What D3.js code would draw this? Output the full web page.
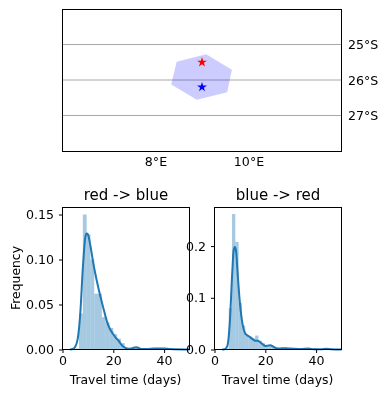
<!DOCTYPE html>
<html>
<head>
<meta charset="utf-8">
<style>
    html, body {
        margin: 0;
        padding: 0;
        background: #fff;
    }
    svg {
        display: block;
        filter: blur(0.35px);
    }
    text {
        font-family: "DejaVu Sans";
        fill: #000;
    }
    .tick text {
        font-size: 12.6px;
    }
    .title {
        font-size: 15px;
        text-anchor: middle;
    }
    .axis-label {
        font-size: 12.4px;
        text-anchor: middle;
    }
    .frame {
        fill: none;
        stroke: #000;
        stroke-width: 1px;
    }
    .bar {
        fill: #1f77b4;
        fill-opacity: 0.4;
    }
    .kde {
        fill: none;
        stroke: #1f77b4;
        stroke-width: 2px;
    }
</style>
</head>
<body>
<script src="https://d3js.org/d3.v7.min.js"></script>
<script>

    // map panel
    var gridLats = [-25, -26, -27];
    var lonTicks = [8, 10];
    var regionLons = [8.454, 9.09, 9.643, 9.542, 8.89, 8.338];
    var regionLats = [-25.483, -25.277, -25.709, -26.342, -26.556, -26.124];
    var starLons = [9.0, 9.0];
    var starLats = [-25.5, -26.2];
    var starColors = ["red", "blue"];

    // red -> blue
    var rbBinEdges = [5, 6.5, 8, 9.5, 11, 12.5, 14, 15.5, 17, 18.5, 20, 21.5, 23, 24.5, 26, 27.5, 29, 30.5, 32, 36, 40, 44];
    var rbBinValues = [0.001, 0.04, 0.15, 0.128, 0.1, 0.062, 0.062, 0.036, 0.03, 0.024, 0.017, 0.012, 0.007, 0.002, 0.0008, 0.002, 0.003, 0.001, 0.0005, 0.001, 0.001];
    var rbKdeX = [3, 4, 5, 6, 7, 8, 9, 9.5, 10, 11, 12, 13, 14, 15, 16, 17, 18, 19, 20, 21, 22, 23, 24, 25, 26, 27, 28, 29, 30, 31, 33, 36, 38, 40, 42, 44, 50];
    var rbKdeY = [0, 0.0005, 0.003, 0.012, 0.04, 0.09, 0.125, 0.129, 0.128, 0.115, 0.098, 0.083, 0.07, 0.058, 0.047, 0.036, 0.027, 0.021, 0.017, 0.013, 0.01, 0.006, 0.003, 0.0015, 0.0007, 0.001, 0.002, 0.0025, 0.0015, 0.0006, 0.0005, 0.001, 0.0012, 0.001, 0.0006, 0.0002, 0];
    var rbYTicks = [0, 0.05, 0.10, 0.15];

    // blue -> red
    var brBinEdges = [4.3, 5.6, 6.9, 8.2, 9.5, 10.8, 12.1, 13.4, 14.7, 16, 17.3, 18.6, 19.9, 21.2, 22.5, 23.8, 25.1, 28, 32, 36, 40, 43, 46];
    var brBinValues = [0.002, 0.08, 0.262, 0.208, 0.09, 0.046, 0.027, 0.025, 0.022, 0.027, 0.017, 0.012, 0.007, 0.008, 0.007, 0.003, 0.002, 0.002, 0.0015, 0.002, 0.0004, 0.0015];
    var brKdeX = [3, 4, 5, 6, 7, 7.5, 8, 8.5, 9, 10, 11, 12, 13, 14, 15, 16, 17, 18, 19, 20, 21, 22, 23, 24, 25, 26, 27, 29, 31, 34, 37, 39, 42, 44, 46, 50];
    var brKdeY = [0, 0.0005, 0.006, 0.05, 0.15, 0.19, 0.198, 0.19, 0.155, 0.09, 0.05, 0.032, 0.027, 0.024, 0.02, 0.017, 0.017, 0.014, 0.01, 0.007, 0.0075, 0.008, 0.006, 0.003, 0.002, 0.002, 0.0025, 0.002, 0.0015, 0.001, 0.002, 0.0005, 0.0003, 0.0015, 0.0005, 0];
    var brYTicks = [0, 0.1, 0.2];

    var xTicks = [0, 20, 40];

    var svg = d3.select("body").append("svg")
        .attr("width", 387)
        .attr("height", 396);

    // ---- map ----
    var lonScale = d3.scaleLinear().domain([6, 12]).range([62.5, 341.5]);
    var latScale = d3.scaleLinear().domain([-24, -28]).range([9, 151]);

    var map = svg.append("g");

    map.selectAll(".grid")
        .data(gridLats)
      .enter().append("line")
        .attr("x1", lonScale.range()[0])
        .attr("x2", lonScale.range()[1])
        .attr("y1", function(d) {return latScale(d)})
        .attr("y2", function(d) {return latScale(d)})
        .attr("stroke", "#a8a8a8")
        .attr("stroke-width", 1);

    map.append("polygon")
        .attr("points", regionLons.map(function(d, i) {
            return lonScale(d) + "," + latScale(regionLats[i]);
        }).join(" "))
        .attr("fill", "blue")
        .attr("fill-opacity", 0.2);

    map.selectAll(".star")
        .data(starLons)
      .enter().append("path")
        .attr("d", d3.symbol().type(d3.symbolStar).size(30))
        .attr("transform", function(d, i) {
            return "translate(" + lonScale(d) + "," + latScale(starLats[i]) + ")";
        })
        .attr("fill", function(d, i) {return starColors[i]});

    map.append("rect")
        .attr("class", "frame")
        .attr("x", lonScale.range()[0])
        .attr("y", latScale.range()[0] + 0.5)
        .attr("width", lonScale.range()[1] - lonScale.range()[0])
        .attr("height", latScale.range()[1] - latScale.range()[0]);

    var lonAxis = d3.axisBottom(lonScale)
        .tickValues(lonTicks)
        .tickSize(0)
        .tickPadding(6.5)
        .tickFormat(function(d) {return d + "°E"});
    map.append("g")
        .attr("transform", "translate(0," + latScale.range()[1] + ")")
        .call(lonAxis)
        .call(function(g) {g.select(".domain").remove()});

    var latAxis = d3.axisRight(latScale)
        .tickValues(gridLats)
        .tickSize(0)
        .tickPadding(6.5)
        .tickFormat(function(d) {return Math.abs(d) + "°S"});
    map.append("g")
        .attr("transform", "translate(" + lonScale.range()[1] + ",0)")
        .call(latAxis)
        .call(function(g) {g.select(".domain").remove()});

    // ---- histograms ----
    function drawPanel(opts) {
        var x = d3.scaleLinear().domain([0, 50]).range(opts.xRange);
        var y = d3.scaleLinear().domain([0, opts.yMax]).range([349.5, 207.5]);
        var g = svg.append("g");

        g.selectAll(".bar")
            .data(opts.values)
          .enter().append("rect")
            .attr("class", "bar")
            .attr("x", function(d, i) {return x(opts.edges[i])})
            .attr("width", function(d, i) {return x(opts.edges[i + 1]) - x(opts.edges[i])})
            .attr("y", function(d) {return y(d)})
            .attr("height", function(d) {return y(0) - y(d)});

        var line = d3.line()
            .x(function(d) {return x(d)})
            .y(function(d, i) {return y(opts.kdeY[i])})
            .curve(d3.curveMonotoneX);

        g.append("path")
            .attr("class", "kde")
            .attr("d", line(opts.kdeX));

        g.append("rect")
            .attr("class", "frame")
            .attr("x", opts.xRange[0])
            .attr("y", y.range()[1])
            .attr("width", opts.xRange[1] - opts.xRange[0])
            .attr("height", y.range()[0] - y.range()[1]);

        g.append("g")
            .attr("transform", "translate(0," + y.range()[0] + ")")
            .call(d3.axisBottom(x).tickValues(xTicks).tickSize(3.5).tickPadding(3.5).tickFormat(d3.format("d")))
            .call(function(a) {a.select(".domain").remove()});

        g.append("g")
            .attr("transform", "translate(" + opts.xRange[0] + ",0)")
            .call(d3.axisLeft(y).tickValues(opts.yTicks).tickSize(3.5).tickPadding(5).tickFormat(d3.format(opts.yFormat)))
            .call(function(a) {a.select(".domain").remove()});

        g.append("text")
            .attr("class", "title")
            .attr("x", (opts.xRange[0] + opts.xRange[1]) / 2)
            .attr("y", 199.5)
            .text(opts.title);

        g.append("text")
            .attr("class", "axis-label")
            .attr("x", (opts.xRange[0] + opts.xRange[1]) / 2 - 0.5)
            .attr("y", 384)
            .text("Travel time (days)");
    }

    drawPanel({
        title: "red -> blue",
        xRange: [62.5, 189.5],
        yMax: 0.1578,
        edges: rbBinEdges,
        values: rbBinValues,
        kdeX: rbKdeX,
        kdeY: rbKdeY,
        yTicks: rbYTicks,
        yFormat: ".2f"
    });

    drawPanel({
        title: "blue -> red",
        xRange: [214.5, 341.5],
        yMax: 0.2746,
        edges: brBinEdges,
        values: brBinValues,
        kdeX: brKdeX,
        kdeY: brKdeY,
        yTicks: brYTicks,
        yFormat: ".1f"
    });

    svg.append("text")
        .attr("class", "axis-label")
        .attr("transform", "translate(19.5,278) rotate(-90)")
        .text("Frequency");

</script>
</body>
</html>
